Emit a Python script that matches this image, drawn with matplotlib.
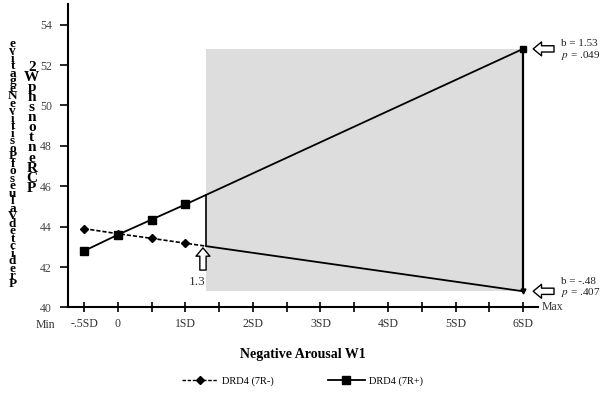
import numpy as np
import matplotlib
matplotlib.use("Agg")
import matplotlib.pyplot as plt
from matplotlib.patches import Rectangle
from matplotlib.lines import Line2D

plt.rcParams["font.family"] = ["Liberation Serif", "DejaVu Serif"]
plt.rcParams["mathtext.fontset"] = "stix"

# ---- data -------------------------------------------------------------------
x_sd = [-0.5, 0.0, 0.5, 1.0]
neg_7r_minus = [43.9, 43.65, 43.42, 43.18]
neg_7r_plus = [42.8, 43.6, 44.35, 45.1]
x_end = 6.0
end_7r_minus = 40.8
end_7r_plus = 52.8
jn_point = 1.31          # region of significance starts here
b_minus, p_minus = "-.48", ".407"
b_plus, p_plus = "1.53", ".049"
xtick_pos = [-0.5, 0, 0.5, 1, 1.5, 2, 2.5, 3, 3.5, 4, 4.5, 5, 5.5, 6]
xtick_lab = ["-.5SD", "0", "", "1SD", "", "2SD", "", "3SD", "", "4SD",
             "", "5SD", "", "6SD"]
yticks = [40, 42, 44, 46, 48, 50, 52, 54]

fig = plt.figure(figsize=(6.01, 4.04), dpi=100)
ax = fig.add_axes([0.113, 0.239, 0.782, 0.75])
ax.set_xlim(-0.74, 6.22)
ax.set_ylim(40, 55)

# values of each line at the J-N point (from its straight segment)
jn_minus = np.interp(jn_point, [x_sd[-1], x_end], [neg_7r_minus[-1], end_7r_minus])
jn_plus = np.interp(jn_point, [x_sd[-1], x_end], [neg_7r_plus[-1], end_7r_plus])

# shaded region of significance (drawn over the "1.31" label)
ax.text(1.05, 41.25, "1.31", fontsize=9.5, color="#333333", ha="left",
        va="center", zorder=1)
ax.add_patch(Rectangle((jn_point, end_7r_minus), x_end - jn_point,
                       end_7r_plus - end_7r_minus, facecolor="#dddddd",
                       edgecolor="none", zorder=2))

# DRD4 (7R-)
ax.plot(x_sd + [jn_point], neg_7r_minus + [jn_minus], color="black", lw=1.2,
        ls=(0, (2.5, 1.2)), zorder=4)
ax.plot(x_sd, neg_7r_minus, ls="none", marker="D", ms=4.5, color="black",
        zorder=5)
ax.plot([jn_point, x_end], [jn_minus, end_7r_minus], color="black", lw=1.3,
        zorder=4)
ax.plot([x_end], [end_7r_minus], ls="none", marker="v", ms=3.5, color="black",
        zorder=5)

# DRD4 (7R+)
ax.plot(x_sd + [x_end], neg_7r_plus + [end_7r_plus], color="black", lw=1.3,
        zorder=4)
ax.plot(x_sd, neg_7r_plus, ls="none", marker="s", ms=6, color="black",
        zorder=5)
ax.plot([x_end], [end_7r_plus], ls="none", marker="s", ms=4, color="black",
        zorder=5)

# region borders
ax.plot([jn_point, jn_point], [jn_minus, jn_plus], color="black", lw=1.2,
        zorder=4)
ax.plot([x_end, x_end], [end_7r_minus, end_7r_plus], color="black", lw=1.6,
        zorder=4)

# hollow arrows
arrow = dict(arrowstyle="simple,head_length=6,head_width=10,tail_width=4.5",
             mutation_scale=1, fc="white", ec="black", lw=1.0,
             shrinkA=0, shrinkB=0)
ax.annotate("", xy=(6.15, end_7r_plus), xytext=(15, 0),
            textcoords="offset points", arrowprops=arrow)
ax.annotate("", xy=(6.15, end_7r_minus), xytext=(15, 0),
            textcoords="offset points", arrowprops=arrow)
ax.annotate("", xy=(1.26, 42.95), xytext=(0, -16),
            textcoords="offset points", arrowprops=arrow)

fig.text(0.934, 0.885, "b = " + b_plus, fontsize=8, color="#222222")
fig.text(0.934, 0.857, "$p$ = " + p_plus, fontsize=8, color="#222222")
fig.text(0.934, 0.298, "b = " + b_minus, fontsize=8, color="#222222")
fig.text(0.934, 0.270, "$p$ = " + p_minus, fontsize=8, color="#222222")

# axes styling
for s in ("top", "right"):
    ax.spines[s].set_visible(False)
ax.spines["left"].set_linewidth(1.5)
ax.spines["bottom"].set_linewidth(1.5)
ax.set_yticks(yticks)
ax.set_yticklabels([str(v) for v in yticks], fontsize=8.5, color="#444444")
ax.tick_params(axis="y", length=5.5, width=1.2, pad=6)
ax.set_xticks(xtick_pos)
ax.set_xticklabels(xtick_lab, fontsize=8.5, color="#333333")
ax.tick_params(axis="x", direction="inout", length=7, width=1.2, pad=4)
ax.text(-0.93, 39.45, "Min", fontsize=8.5, color="#333333", ha="right",
        va="top", clip_on=False)
ax.text(6.27, 40, "Max", fontsize=8.5, color="#333333", ha="left",
        va="center", clip_on=False)

ax.set_xlabel("Negative Arousal W1", fontsize=10, fontweight="bold",
              labelpad=13)

# y-label: stacked letters as in the source
col1 = "evitageNevitisoPfoseulaVdetciderP"
col2 = "2WphsnotneRCP"
fig.text(0.021, 0.906, "\n".join(col1), fontsize=9.5, fontweight="bold",
         ha="center", va="top", linespacing=0.5)
fig.text(0.053, 0.85, "\n".join(col2), fontsize=11, fontweight="bold",
         ha="center", va="top", linespacing=0.71)

# legend
h1 = Line2D([], [], color="black", lw=1.0, ls=(0, (2.5, 1.2)), marker="D",
            ms=4)
h2 = Line2D([], [], color="black", lw=1.3, marker="s", ms=6)
fig.legend([h1, h2], ["DRD4 (7R-)", "DRD4 (7R+)"], ncol=2, frameon=False,
           loc="center", bbox_to_anchor=(0.503, 0.057), fontsize=7.5,
           handlelength=3.5, columnspacing=5.2, handletextpad=0.4)

fig.savefig("out.png", dpi=100)
